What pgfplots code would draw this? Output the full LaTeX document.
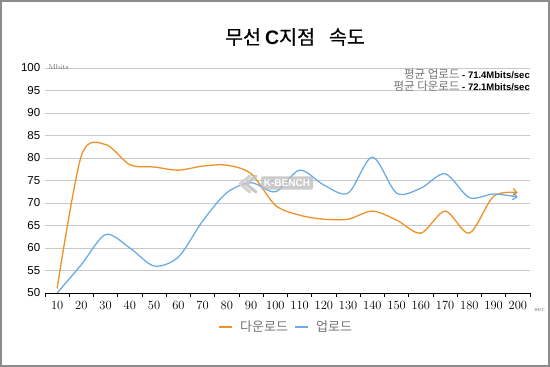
\documentclass[border=0pt]{standalone}
\usepackage{fontspec}
\usepackage{pgfplots}
\pgfplotsset{compat=1.18}
\usetikzlibrary{arrows.meta}
\setsansfont{Liberation Sans}
\newfontfamily\kr{Noto Sans CJK KR}
\newfontfamily\krt[FakeBold=0.4]{Noto Sans CJK KR}
\definecolor{orangeL}{RGB}{238,145,40}
\definecolor{blueL}{RGB}{108,172,228}
\definecolor{gridc}{RGB}{200,200,200}
\begin{document}
\begin{tikzpicture}[x=1pt,y=1pt]
\useasboundingbox (0,0) rectangle (550,367);
\draw[black!45, line width=2pt] (1,1) rectangle (549,366);
\node at (295,330) {\fontsize{19.5}{19.5}\selectfont\krt 무선\hspace{4pt}{\sffamily\bfseries C}지점\hspace{14pt}속도};
\begin{axis}[
  at={(45pt,74pt)}, anchor=south west,
  scale only axis, width=485pt, height=225pt,
  xmin=-0.5, xmax=19.5, ymin=50, ymax=100,
  axis x line*=bottom, axis y line*=left,
  y axis line style={draw=none},
  x axis line style={black, line width=0.8pt, -},
  xtick={0,...,19},
  xticklabels={10,20,30,40,50,60,70,80,90,100,110,120,130,140,150,160,170,180,190,200},
  minor xtick={-0.5,0.5,...,19.5},
  major x tick style={draw=none},
  minor x tick style={black, line width=0.8pt},
  tick align=outside,
  minor tick length=4pt,
  ytick={50,55,...,100},
  ytick style={draw=none},
  ymajorgrids,
  grid style={gridc, line width=0.9pt},
  /pgf/number format/assume math mode=true,
  yticklabel style={font=\sffamily\fontsize{11.5}{12}\selectfont, xshift=3pt},
  xticklabel style={font=\fontsize{12.5}{13}\selectfont},
  legend style={at={(0.497,-0.151)}, anchor=center, draw=none, fill=none,
    legend columns=2, font=\kr\fontsize{13}{13}\selectfont, text=black!55,
    /tikz/every odd column/.append style={column sep=6pt},
    /tikz/every even column/.append style={column sep=4pt}},
  legend image code/.code={\draw[#1, -, line width=1.1pt] (0pt,0pt) -- (13pt,0pt);},
]
\addplot[orangeL, line width=1.3pt, smooth, -{Straight Barb[length=4pt,width=7pt]}] coordinates {
(0,51) (1,80.5) (2,83) (3,78.5) (4,78) (5,77.3) (6,78.2) (7,78.4) (8,76.5) (9,69.5)
(10,67.3) (11,66.4) (12,66.4) (13,68.2) (14,66.2) (15,63.3) (16,68.2) (17,63.3) (18,71.5) (19,72.3)};
\addlegendentry{다운로드}
\addplot[blueL, line width=1.3pt, smooth, -{Straight Barb[length=4pt,width=7pt]}] coordinates {
(0,50) (1,56.3) (2,63) (3,60) (4,56) (5,58) (6,66) (7,72.3) (8,74.5) (9,72.5)
(10,77.3) (11,74) (12,72.2) (13,80.2) (14,72.2) (15,73.3) (16,76.5) (17,71.2) (18,72) (19,71.3)};
\addlegendentry{업로드}
\end{axis}
\node[font=\fontsize{7}{7}\selectfont, text=black!60, anchor=west] at (45,300) {Mbits};
\node[font=\fontsize{7}{7}\selectfont, text=black!60, anchor=west] at (531,57) {sec};
\node[anchor=east, inner sep=0pt] at (530,293) {\kr\fontsize{11.5}{11.5}\selectfont\color{black!55}평균 업로드 \sffamily\bfseries\fontsize{9.5}{9.5}\selectfont\color{black} - 71.4Mbits/sec};
\node[anchor=east, inner sep=0pt] at (530,281) {\kr\fontsize{11.5}{11.5}\selectfont\color{black!55}평균 다운로드 \sffamily\bfseries\fontsize{9.5}{9.5}\selectfont\color{black} - 72.1Mbits/sec};
\draw[gray!45, line width=3pt, line cap=round, line join=round] (256,191) -- (246,183) -- (256,175);
\draw[gray!35, line width=3pt, line cap=round, line join=round] (250,191) -- (240,183) -- (250,175);
\node[fill=gray!55, fill opacity=0.75, text opacity=1, text=white, rounded corners=1.5pt, inner xsep=3pt, inner ysep=3pt, font=\sffamily\bfseries\fontsize{10}{10}\selectfont] at (287,184) {K-BENCH};
\end{tikzpicture}
\end{document}
